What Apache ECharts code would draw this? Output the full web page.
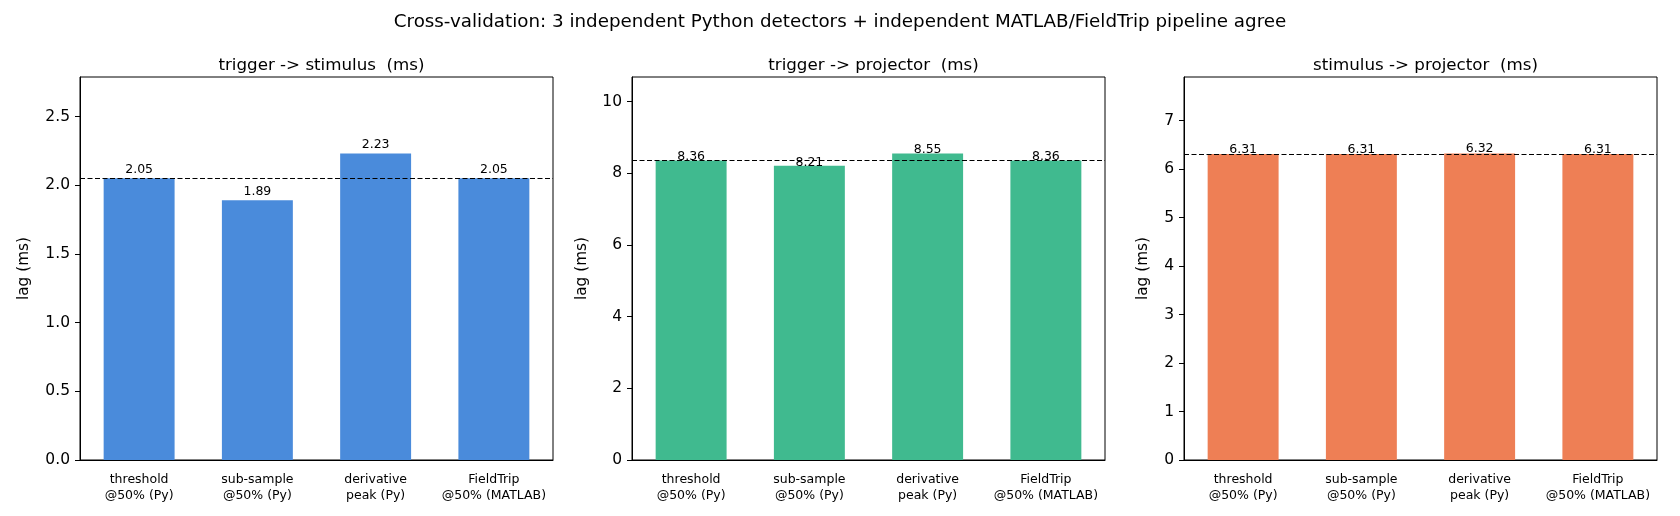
<!DOCTYPE html>
<html>
<head>
<meta charset="utf-8">
<script src="https://cdn.jsdelivr.net/npm/echarts@6/dist/echarts.min.js"></script>
<style>
  html, body { margin: 0; padding: 0; background: #fff; }
  #chart { width: 1680px; height: 516px; }
</style>
</head>
<body>
<div id="chart"></div>
<script>
// data
var categories = ["threshold\n@50% (Py)", "sub-sample\n@50% (Py)", "derivative\npeak (Py)", "FieldTrip\n@50% (MATLAB)"];
var panelTitles = ["trigger -> stimulus  (ms)", "trigger -> projector  (ms)", "stimulus -> projector  (ms)"];
var trigStim = [2.05, 1.89, 2.23, 2.05];
var trigProj = [8.36, 8.21, 8.55, 8.36];
var stimProj = [6.31, 6.31, 6.32, 6.31];
var refLines = [2.05, 8.36, 6.31];   // FieldTrip value, dashed line
var yTicks1 = [0, 0.5, 1, 1.5, 2, 2.5];
var yTicks2 = [0, 2, 4, 6, 8, 10];
var yTicks3 = [0, 1, 2, 3, 4, 5, 6, 7];

var FONT = "DejaVu Sans";
var barColors = ["#4a8bdb", "#40ba8f", "#ee7f55"];
var panels = [
  { values: trigStim, ticks: yTicks1, digits: 1, nameGap: 48, labelGap: 5 },
  { values: trigProj, ticks: yTicks2, digits: 0, nameGap: 42, labelGap: 0 },
  { values: stimProj, ticks: yTicks3, digits: 0, nameGap: 33, labelGap: 1 }
];
var gridLeft = [80, 632, 1184], gridTop = 77, gridW = 473, gridH = 383;

var chart = echarts.init(document.getElementById("chart"), null, { renderer: "canvas" });

var titles = [{
  text: "Cross-validation: 3 independent Python detectors + independent MATLAB/FieldTrip pipeline agree",
  left: "center", top: 8,
  textStyle: { fontFamily: FONT, fontSize: 18.3, fontWeight: "normal", color: "#000" }
}];
var grids = [], xAxes = [], yAxes = [], series = [];

panels.forEach(function (p, i) {
  titles.push({
    text: panelTitles[i],
    left: gridLeft[i] + gridW / 2, top: 52, textAlign: "center",
    textStyle: { fontFamily: FONT, fontSize: 16.7, fontWeight: "normal", color: "#000" }
  });
  grids.push({
    left: gridLeft[i], top: gridTop, width: gridW, height: gridH,
    show: true, borderColor: "#000", borderWidth: 1, backgroundColor: "transparent"
  });
  xAxes.push({
    type: "category", gridIndex: i, data: categories,
    axisLine: { lineStyle: { color: "#000", width: 1 } },
    axisTick: { alignWithLabel: true, length: 5, lineStyle: { color: "#000" } },
    axisLabel: { fontFamily: FONT, fontSize: 12.5, lineHeight: 16, color: "#000", margin: 12, interval: 0 },
    splitLine: { show: false }
  });
  yAxes.push({
    type: "value", gridIndex: i, min: 0, max: Math.max.apply(null, p.values) * 1.25,
    name: "lag (ms)", nameLocation: "middle", nameGap: p.nameGap,
    nameTextStyle: { fontFamily: FONT, fontSize: 15.3, color: "#000" },
    axisLine: { show: true, lineStyle: { color: "#000", width: 1 } },
    axisTick: { show: true, length: 5, lineStyle: { color: "#000" }, customValues: p.ticks },
    axisLabel: {
      fontFamily: FONT, fontSize: 15.5, color: "#000", margin: 10, customValues: p.ticks,
      formatter: function (v) { return v.toFixed(p.digits); }
    },
    splitLine: { show: false }
  });
  series.push({
    type: "bar", xAxisIndex: i, yAxisIndex: i, data: p.values,
    barWidth: "60%", itemStyle: { color: barColors[i] },
    label: {
      show: true, position: "top", distance: p.labelGap, offset: [0, 3],
      fontFamily: FONT, fontSize: 12.5, color: "#000",
      formatter: function (d) { return d.value.toFixed(2); }
    },
    markLine: {
      silent: true, symbol: "none", label: { show: false },
      lineStyle: { color: "#000", width: 1, type: [5, 2.5] },
      data: [{ yAxis: refLines[i] }]
    },
    animation: false
  });
});

chart.setOption({
  animation: false,
  backgroundColor: "#fff",
  title: titles,
  grid: grids,
  xAxis: xAxes,
  yAxis: yAxes,
  series: series
});
</script>
</body>
</html>
